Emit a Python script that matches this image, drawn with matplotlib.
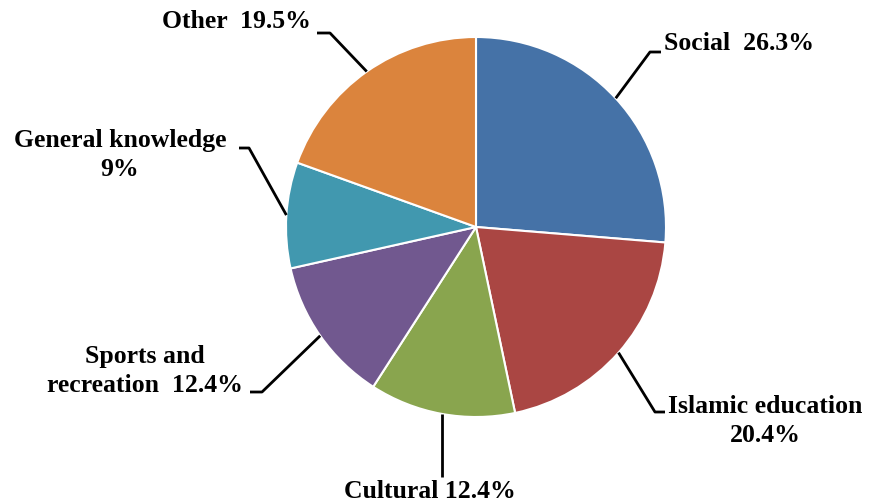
import numpy as np
import matplotlib
matplotlib.use("Agg")
import matplotlib.pyplot as plt

categories = ["Social", "Islamic education", "Cultural", "Sports and recreation",
              "General knowledge", "Other"]
values = [26.3, 20.4, 12.4, 12.4, 9.0, 19.5]
label_texts = ["Social  26.3%", "Islamic education\n20.4%", "Cultural 12.4%",
               "Sports and\nrecreation  12.4%", "General knowledge\n9%", "Other  19.5%"]
colors = ["#4572A7", "#AA4643", "#89A54E", "#71588F", "#4198AF", "#DB843D"]

W, H = 870, 504
fig = plt.figure(figsize=(W / 100, H / 100), dpi=100)
ax = fig.add_axes([0, 0, 1, 1])
ax.set_xlim(0, W)
ax.set_ylim(0, H)
ax.set_aspect("equal")
ax.axis("off")

def Y(py):
    return H - py

cx, cy, R = 476, 227, 190
wedges, _ = ax.pie(values, colors=colors, startangle=90, counterclock=False,
                   center=(cx, Y(cy)), radius=R, frame=True,
                   wedgeprops=dict(edgecolor="white", linewidth=1.5))
ax.set_xlim(0, W)
ax.set_ylim(0, H)
ax.axis("off")

# layout: (elbow point, line end point, text position, ha) in pixel coords
layout = [
    ((650, 52), (661, 52), (664, 44), "left"),
    ((655, 412), (665, 412), (765, 421), "center"),
    ((None, 477), None, (430, 492), "center"),
    ((262, 392), (250, 392), (145, 371), "center"),
    ((249, 148), (239, 148), (120, 155), "center"),
    ((330, 33), (317, 33), (236, 22), "center"),
]

font = dict(family="Liberation Serif", fontweight="bold", fontsize=18.5)
for w, txt, (elb, end, tpos, ha) in zip(wedges, label_texts, layout):
    ang = np.deg2rad((w.theta1 + w.theta2) / 2)
    ex, ey = w.center[0] + R * np.cos(ang), w.center[1] + R * np.sin(ang)
    if elb[0] is None:
        xs, ys = [ex, ex], [ey, Y(elb[1])]
    else:
        xs = [ex, elb[0], end[0]]
        ys = [ey, Y(elb[1]), Y(end[1])]
    ax.plot(xs, ys, color="black", lw=2, solid_capstyle="butt", zorder=3)
    ax.text(tpos[0], Y(tpos[1]), txt, ha=ha, va="center", multialignment="center",
            linespacing=1.35, color="black", **font)

fig.savefig("out.png", dpi=100, facecolor="white")
